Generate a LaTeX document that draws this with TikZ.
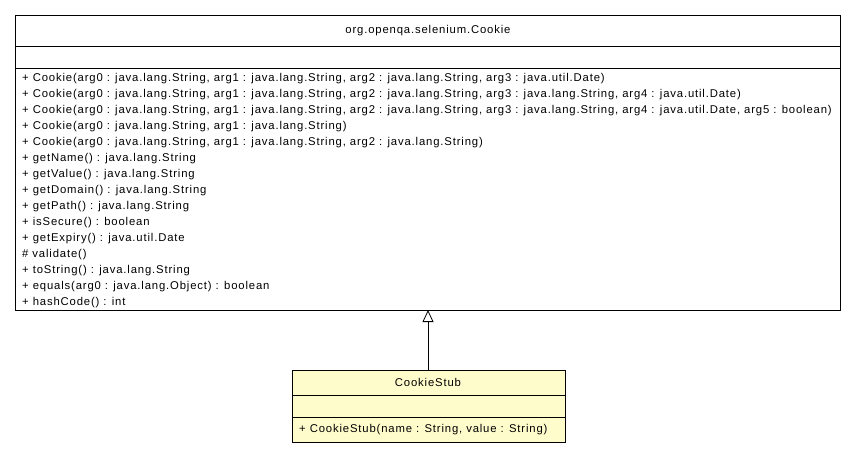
\documentclass[tikz,border=0pt]{standalone}
\usepackage{fontspec}
\setmainfont{Liberation Sans}[LetterSpace=7.5]
\usetikzlibrary{arrows.meta}
\begin{document}
\begin{tikzpicture}[x=1pt,y=-1pt,
  box/.style={draw=black,line width=0.8pt},
  txt/.style={anchor=west,inner sep=0pt,font=\fontsize{11.3}{13}\selectfont},
  ttl/.style={inner sep=0pt,font=\fontsize{11.3}{13}\selectfont}]
\useasboundingbox (0,0) rectangle (856,453);
\fill[white] (0,0) rectangle (856,453);
\draw[box] (15,15) rectangle (840,310);
\node[coordinate] (top) at (428,310) {};
\draw[box] (15,46) -- (840,46);
\draw[box] (15,68) -- (840,68);
\node[ttl] (t1) at (428,31) {org.openqa.selenium.Cookie};
\foreach \i/\s in {0/{+ Cookie(arg0 : java.lang.String, arg1 : java.lang.String, arg2 : java.lang.String, arg3 : java.util.Date)},
1/{+ Cookie(arg0 : java.lang.String, arg1 : java.lang.String, arg2 : java.lang.String, arg3 : java.lang.String, arg4 : java.util.Date)},
2/{+ Cookie(arg0 : java.lang.String, arg1 : java.lang.String, arg2 : java.lang.String, arg3 : java.lang.String, arg4 : java.util.Date, arg5 : boolean)},
3/{+ Cookie(arg0 : java.lang.String, arg1 : java.lang.String)},
4/{+ Cookie(arg0 : java.lang.String, arg1 : java.lang.String, arg2 : java.lang.String)},
5/{+ getName() : java.lang.String},
6/{+ getValue() : java.lang.String},
7/{+ getDomain() : java.lang.String},
8/{+ getPath() : java.lang.String},
9/{+ isSecure() : boolean},
10/{+ getExpiry() : java.util.Date},
11/{\# validate()},
12/{+ toString() : java.lang.String},
13/{+ equals(arg0 : java.lang.Object) : boolean},
14/{+ hashCode() : int}}
  \node[txt] (m\i) at (22,{79+16*\i}) {\s};
\fill[yellow!20!white] (292,370) rectangle (565,442);
\draw[box] (292,370) rectangle (565,442);
\draw[box] (292,395) -- (565,395);
\draw[box] (292,417) -- (565,417);
\node[coordinate] (bot) at (428,370) {};
\node[ttl] (t2) at (428,382) {CookieStub};
\node[txt] (s0) at (299,430) {+ CookieStub(name : String, value : String)};
\draw[line width=0.8pt,-{Triangle[open,length=12pt,width=11pt]}] (bot) -- (top);
\end{tikzpicture}
\end{document}
